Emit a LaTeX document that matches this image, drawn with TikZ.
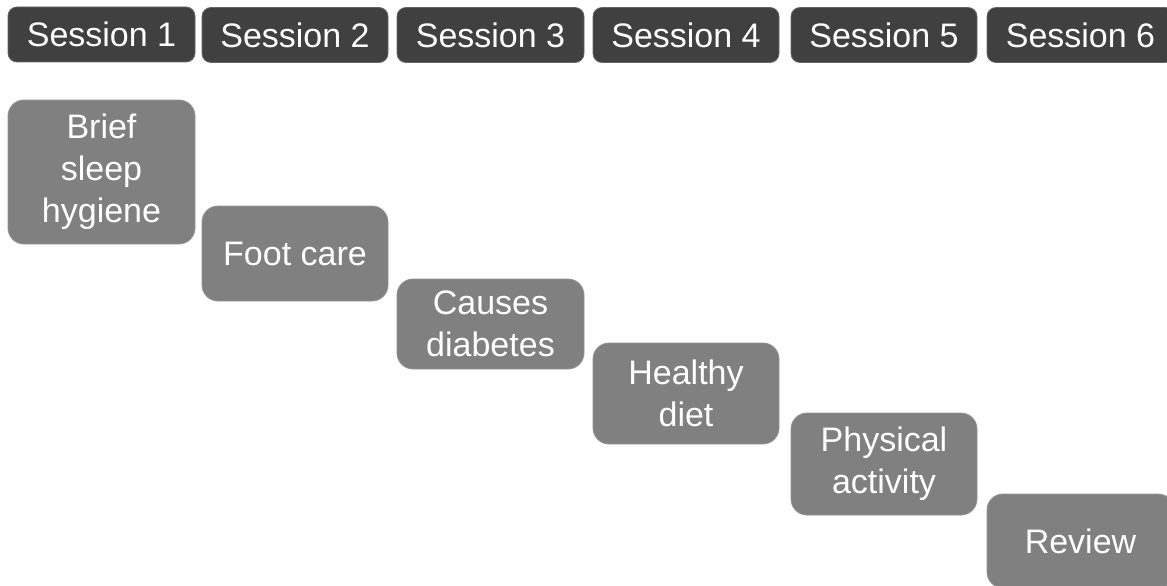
\documentclass[tikz,border=0pt]{standalone}
\usepackage{fontspec}
\setmainfont{Liberation Sans}
\definecolor{hdrgray}{HTML}{404040}
\definecolor{boxgray}{HTML}{808080}
\tikzset{
  hdr/.style={draw=hdrgray!80!white, line width=0.8pt, fill=hdrgray, rounded corners=9pt, text=white, align=center, inner sep=0pt, font=\fontsize{34}{42}\selectfont},
  topic/.style={draw=boxgray!85!white, line width=0.8pt, fill=boxgray, rounded corners=16pt, text=white, align=center, inner sep=0pt, font=\fontsize{34}{42}\selectfont}
}
\begin{document}
\begin{tikzpicture}[x=1pt,y=-1pt]
\useasboundingbox (0,0) rectangle (1167,586);
\node[hdr, minimum width=187pt, minimum height=55pt] (s1) at (101.5,34.5) {Session 1};
\node[hdr, minimum width=186pt, minimum height=55pt] (s2) at (295,35) {Session 2};
\node[hdr, minimum width=187pt, minimum height=55pt] (s3) at (490.5,35) {Session 3};
\node[hdr, minimum width=186pt, minimum height=55pt] (s4) at (686,35) {Session 4};
\node[hdr, minimum width=186pt, minimum height=55pt] (s5) at (884,35) {Session 5};
\node[hdr, minimum width=187pt, minimum height=55pt] (s6) at (1080.5,35) {Session 6};

\node[topic, minimum width=187pt, minimum height=144pt] (t1) at (101.5,172) {Brief\\sleep\\hygiene};
\node[topic, minimum width=186pt, minimum height=95pt] (t2) at (295,253.5) {Foot care};
\node[topic, minimum width=187pt, minimum height=90pt] (t3) at (490.5,324) {Causes\\diabetes};
\node[topic, minimum width=186pt, minimum height=101pt] (t4) at (686,393.5) {Healthy\\diet};
\node[topic, minimum width=186pt, minimum height=102pt] (t5) at (884,464) {Physical\\activity};
\node[topic, minimum width=187pt, minimum height=94pt] (t6) at (1080.5,541) {Review};
\end{tikzpicture}
\end{document}
